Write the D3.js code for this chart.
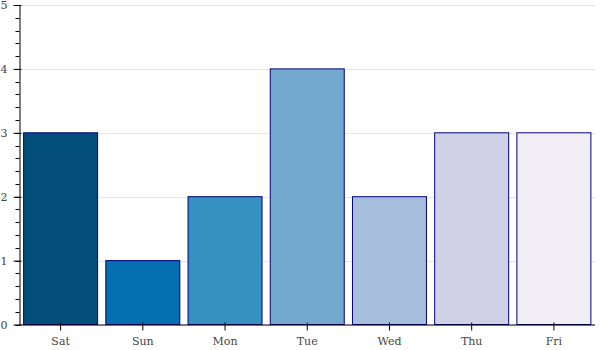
<!DOCTYPE html>
<html><head><meta charset="utf-8">
<script src="https://cdn.jsdelivr.net/npm/d3@7"></script>
<style>body{margin:0;background:#fff}svg{display:block}</style>
</head><body>
<svg id="c" width="600" height="350"></svg>
<script>
const categories = ["Sat","Sun","Mon","Tue","Wed","Thu","Fri"];
const values = [3,1,2,4,2,3,3];
const colors = ["#034e7b","#0570b0","#3690c0","#74a9cf","#a6bddb","#d0d1e6","#f1eef6"];
const yTicks = [0,1,2,3,4,5];

const svg = d3.select("#c");
const L = 19.5, R = 595, T = 5, B = 324.5;
const x = d3.scaleBand().domain(categories).range([L, R]).paddingInner(0.1).paddingOuter(0.05);
const y = d3.scaleLinear().domain([0,5]).range([B, T]);

// grid
svg.append("g").selectAll("line").data(yTicks).join("line")
  .attr("x1", L).attr("x2", R)
  .attr("y1", d => Math.round(y(d)) + 0.5).attr("y2", d => Math.round(y(d)) + 0.5)
  .attr("stroke", "#e5e5e5").attr("stroke-width", 1);

// bars
svg.append("g").selectAll("rect").data(categories).join("rect")
  .attr("x", d => x(d))
  .attr("width", x.bandwidth())
  .attr("y", (d,i) => y(values[i]))
  .attr("height", (d,i) => y(0) - y(values[i]))
  .attr("fill", (d,i) => colors[i])
  .attr("stroke", "navy").attr("stroke-width", 1);

const font = "DejaVu Serif";
// y axis
const ya = svg.append("g").attr("transform", `translate(${L},0)`);
const yMinor = d3.range(0, 5.0001, 0.2);
ya.selectAll("line.minor").data(yMinor).join("line").attr("class","minor")
  .attr("x1", -4).attr("x2", 0)
  .attr("y1", d => Math.round(y(d)) + 0.5).attr("y2", d => Math.round(y(d)) + 0.5)
  .attr("stroke", "#000");
const yAxis = d3.axisLeft(y).tickValues(yTicks).tickSizeInner(6).tickSizeOuter(0).tickPadding(6).tickFormat(d3.format("d"));
ya.call(yAxis);
ya.selectAll(".tick line").attr("x1", 2);
ya.select(".domain").attr("stroke", "#000");
ya.selectAll("text").attr("font-family", font).attr("font-size", 11).attr("fill", "#444");

// x axis
const xa = svg.append("g").attr("transform", `translate(0,${B})`);
const xAxis = d3.axisBottom(x).tickSizeInner(6).tickSizeOuter(0).tickPadding(7);
xa.call(xAxis);
xa.select(".domain").attr("d", `M${L},0.5H${R}`).attr("stroke", "#000");
xa.selectAll(".tick line").attr("y1", -2);
xa.selectAll("text").attr("font-family", font).attr("font-size", 11).attr("fill", "#444");
</script>
</body></html>
